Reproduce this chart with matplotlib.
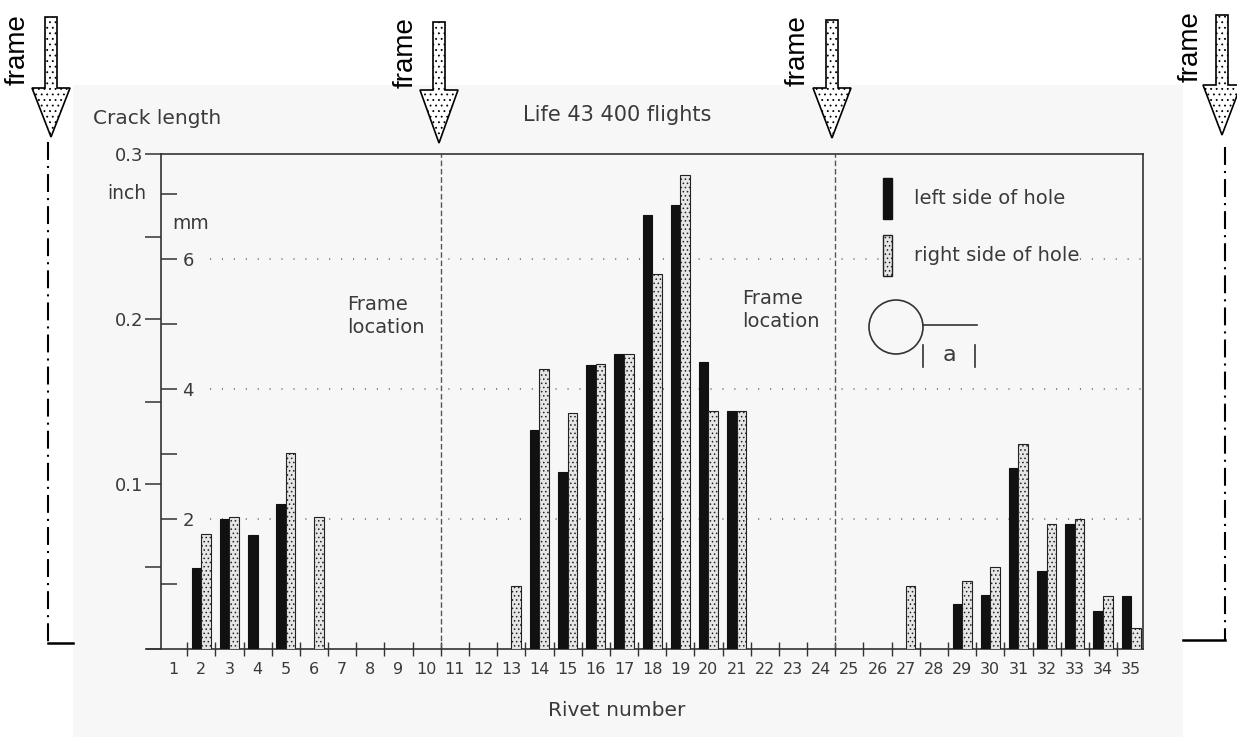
import numpy as np
import matplotlib
matplotlib.use("Agg")
from matplotlib import pyplot as plt
from matplotlib.patches import Patch, Polygon, Rectangle, Circle

# rivets 1..35, crack length in inch (0 = no crack)
rivets = np.arange(1, 36)
left_side = [0, 0.049, 0.079, 0.069, 0.088, 0, 0, 0, 0, 0,
             0, 0, 0, 0.133, 0.107, 0.172, 0.179, 0.263, 0.269, 0.174,
             0.144, 0, 0, 0, 0, 0, 0, 0, 0.027, 0.033,
             0.110, 0.047, 0.076, 0.023, 0.032]
right_side = [0, 0.070, 0.080, 0, 0.119, 0.080, 0, 0, 0, 0,
              0, 0, 0.038, 0.170, 0.143, 0.173, 0.179, 0.227, 0.287, 0.144,
              0.144, 0, 0, 0, 0, 0, 0.038, 0, 0.041, 0.050,
              0.124, 0.076, 0.079, 0.032, 0.013]
frame_rivets = [10.5, 24.5]
mm_grid = [2, 4, 6]

W, H = 1237, 737
ink = '#333333'
txt = '#3a3a3a'
bg = '#f7f7f7'
plt.rcParams['hatch.linewidth'] = 0.6
plt.rcParams['font.family'] = ['DejaVu Sans']

fig = plt.figure(figsize=(W / 100, H / 100), dpi=100)

# overlay in pixel coordinates for the scan background and annotations
ov = fig.add_axes([0, 0, 1, 1], zorder=0)
ov.set_xlim(0, W)
ov.set_ylim(H, 0)
ov.axis('off')
ov.add_patch(Rectangle((73, 85), 1183 - 73, H - 85, fc=bg, ec='none'))

ax = fig.add_axes([161 / W, 1 - 649 / H, (1143 - 161) / W, 495 / H], zorder=1)
ax.patch.set_alpha(0)

l = np.array(left_side)
r = np.array(right_side)
ml = l > 0
mr = r > 0
bw = 0.34
ax.bar(rivets[ml] - 0.17, l[ml], width=bw, color='#111111', edgecolor='#111111', lw=0.8, zorder=3)
ax.bar(rivets[mr] + 0.17, r[mr], width=bw, color='#e6e6e6', edgecolor='#222222',
       hatch='....', lw=0.8, zorder=3)

ax.set_xlim(0.57, 35.42)
ax.set_ylim(0, 0.3)

for fx in frame_rivets:
    ax.axvline(fx, color='#555555', lw=1.0, ls=(0, (4, 2)), zorder=2)
for mm in mm_grid:
    ax.axhline(mm / 25.4, xmin=0.05, color='#777777', lw=1.3, ls=(0, (0.6, 6)), zorder=1)

for s in ax.spines.values():
    s.set_color(ink)
    s.set_linewidth(1.2)

ax.set_yticks([0.1, 0.2, 0.3])
ax.set_yticklabels(['0.1', '0.2', '0.3'])
ax.set_yticks([0, 0.05, 0.15, 0.25], minor=True)
ax.tick_params(axis='y', which='both', direction='out', length=11.5, width=1.1,
               colors=ink, pad=1.5, labelsize=13, labelcolor=txt)

ax.set_xticks(rivets)
ax.set_xticklabels([str(n) for n in rivets])
ax.set_xticks(np.arange(1.5, 35, 1), minor=True)
ax.tick_params(axis='x', which='major', length=0, pad=9, labelsize=11.5, labelcolor=txt)
ax.tick_params(axis='x', which='minor', direction='inout', length=10, width=1.0, colors=ink)

sec = ax.secondary_yaxis('left', functions=(lambda y: y * 25.4, lambda y: y / 25.4))
sec.set_yticks(mm_grid)
sec.set_yticklabels([str(m) for m in mm_grid])
sec.set_yticks([1, 3, 5, 7], minor=True)
sec.tick_params(which='both', direction='in', length=11.5, width=1.1, colors=ink,
                labelsize=13, labelcolor=txt)
sec.tick_params(which='major', pad=-23.5)
sec.spines['left'].set_visible(False)

leg = ax.legend(handles=[Patch(fc='#111111', ec='#111111'),
                         Patch(fc='#e6e6e6', ec='#222222', hatch='....')],
                labels=['left side of hole', 'right side of hole'],
                loc='upper left', bbox_to_anchor=(883 / W, 1 - 178 / H),
                bbox_transform=fig.transFigure, frameon=True, fancybox=False,
                facecolor=bg, edgecolor='none', framealpha=1, fontsize=14,
                handlelength=0.47, handleheight=2.9, labelspacing=0.8,
                handletextpad=1.1, borderpad=0, borderaxespad=0)
for t in leg.get_texts():
    t.set_color(txt)

# texts
ov.text(93, 118, 'Crack length', fontsize=14.5, color=txt, ha='left', va='center')
ov.text(617, 115, 'Life 43 400 flights', fontsize=15, color=txt, ha='center', va='center')
ov.text(146, 193, 'inch', fontsize=13.5, color=txt, ha='right', va='center')
ov.text(172, 223, 'mm', fontsize=13.5, color=txt, ha='left', va='center')
ov.text(617, 710, 'Rivet number', fontsize=14.5, color=txt, ha='center', va='center')
ov.text(347, 316, 'Frame\nlocation', fontsize=14, color=txt, ha='left', va='center', linespacing=1.25)
ov.text(742, 310, 'Frame\nlocation', fontsize=14, color=txt, ha='left', va='center', linespacing=1.25)
ov.plot([147, 161], [649, 649], color=ink, lw=1.2)

# crack sketch
ov.add_patch(Circle((896, 327), 27, fill=False, ec=ink, lw=1.2))
ov.plot([923, 977], [325, 325], color=ink, lw=1.2)
ov.plot([923, 923], [345, 367], color=ink, lw=1.2)
ov.plot([975, 975], [345, 367], color=ink, lw=1.2)
ov.text(949, 355, 'a', fontsize=16, color=txt, ha='center', va='center')

# frame arrows
arrows = [(51, 17, 88, 137), (439, 22, 90, 143), (832, 20, 88, 138), (1222, 15, 85, 135)]
labels_x = [18, 406, 798, 1191]
for (cx, top, head, tip), lx in zip(arrows, labels_x):
    pts = [(cx - 6, top), (cx + 6, top), (cx + 6, head), (cx + 19, head), (cx, tip),
           (cx - 19, head), (cx - 6, head)]
    ov.add_patch(Polygon(pts, closed=True, fc='white', ec='black', lw=1.2, hatch='...'))
    ov.text(lx, (top + head) / 2 - 3, 'frame', rotation=90, fontsize=20, color='black',
            ha='center', va='center', family=['Liberation Sans', 'DejaVu Sans'])

# dash-dot frame lines
dd = (0, (8.6, 2.9, 1, 2.9))
ov.plot([48, 48], [142, 643], color='black', lw=1.5, ls=dd)
ov.plot([48, 73], [643, 643], color='black', lw=1.8)
ov.plot([1225, 1225], [147, 640], color='black', lw=1.5, ls=dd)
ov.plot([1183, 1225], [640, 640], color='black', lw=1.8)

fig.savefig('out.png', dpi=100)
